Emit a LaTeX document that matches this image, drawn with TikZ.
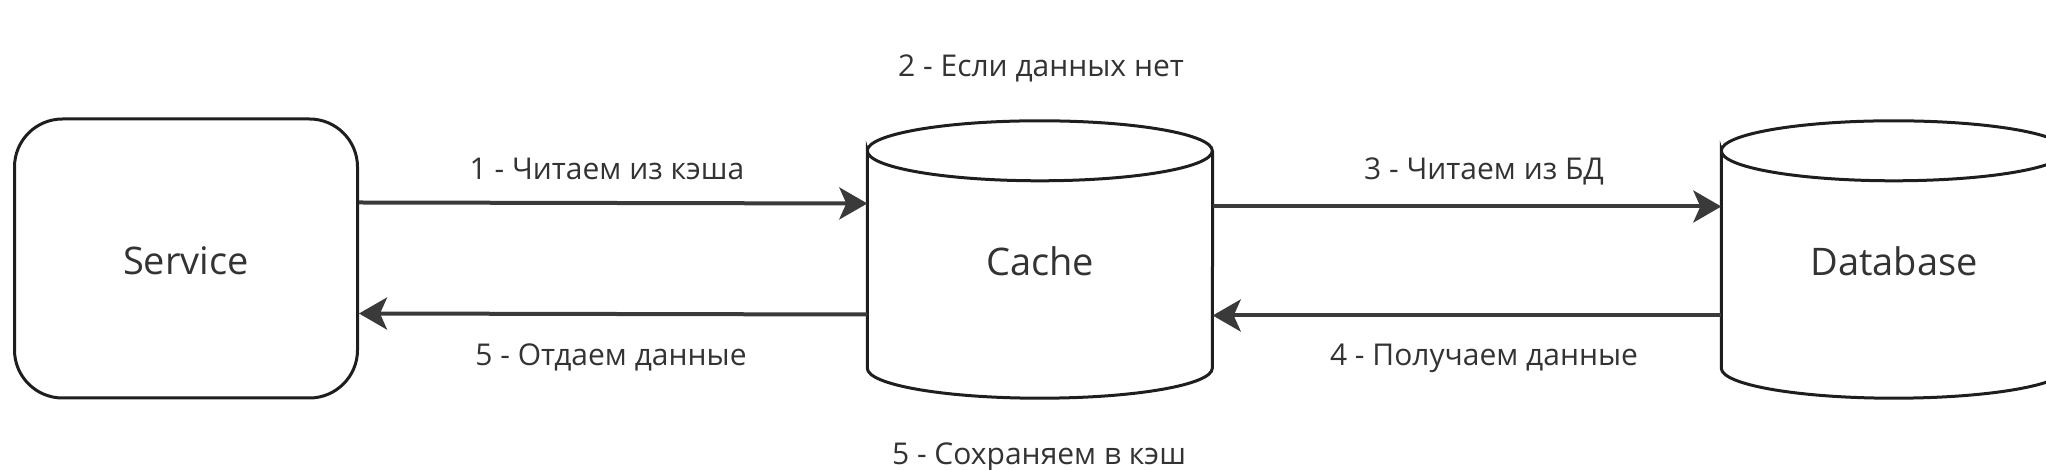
\documentclass[tikz,border=0pt]{standalone}
\usepackage{fontspec}
\setmainfont{Open Sans}
\usetikzlibrary{arrows.meta,
                positioning}
\definecolor{ink}{HTML}{1E1E1E}
\definecolor{arrowgray}{HTML}{3A3A3A}
\definecolor{txt}{HTML}{333333}

\begin{document}
\begin{tikzpicture}[x=1pt, y=1pt,
        box/.style={draw=ink, line width=3pt, rounded corners=48pt, minimum width=343pt, minimum height=279pt, text height=33pt, text depth=0pt, font=\fontsize{38}{44}\selectfont, text=txt},
        store/.style={minimum width=345pt, minimum height=277pt, text height=33pt, text depth=0pt, font=\fontsize{38}{44}\selectfont, text=txt},
        flow/.style={draw=arrowgray, line width=4pt, -{Stealth[length=28pt, width=32pt, inset=7pt]}},
        lbl/.style={anchor=base, font=\fontsize{30}{36}\selectfont, text=txt}]
            \useasboundingbox (0,0) rectangle (2046,470);
            \node [box] (service) at (186,211.5) {Service};
            \node [store] (cache) at (1040,210.5) {Cache};
            \node [store] (db) at (1894,210.5) {Database};
            % cylinders
            \foreach \n in {cache,db}
                \draw [ink, line width=3pt] ([yshift=-30pt]\n.north west) arc [start angle=180, end angle=-180, x radius=172.5pt, y radius=30pt] -- ([yshift=30pt]\n.south west) arc [start angle=180, end angle=360, x radius=172.5pt, y radius=30pt] -- ([yshift=-30pt]\n.north east);
            % arrows
            \draw [flow] ([yshift=56pt]service.east) -- ([yshift=56pt]cache.west);
            \draw [flow] ([yshift=53pt]cache.east) -- ([yshift=53pt]db.west);
            \draw [flow] ([yshift=-56pt]db.west) -- ([yshift=-56pt]cache.east);
            \draw [flow] ([yshift=-55pt]cache.west) -- ([yshift=-55pt]service.east);
            % labels
            \node [lbl] (readcache) at (607,290) {1 - Читаем из кэша};
            \node [lbl] (nodata) at (1041,393) {2 - Если данных нет};
            \node [lbl] (readdb) at (1484,290) {3 - Читаем из БД};
            \node [lbl] (getdata) at (1484,104) {4 - Получаем данные};
            \node [lbl] (givedata) at (611,104) {5 - Отдаем данные};
            \node [lbl] (savecache) at (1039,5) {5 - Сохраняем в кэш};
        \end{tikzpicture}
\end{document}
